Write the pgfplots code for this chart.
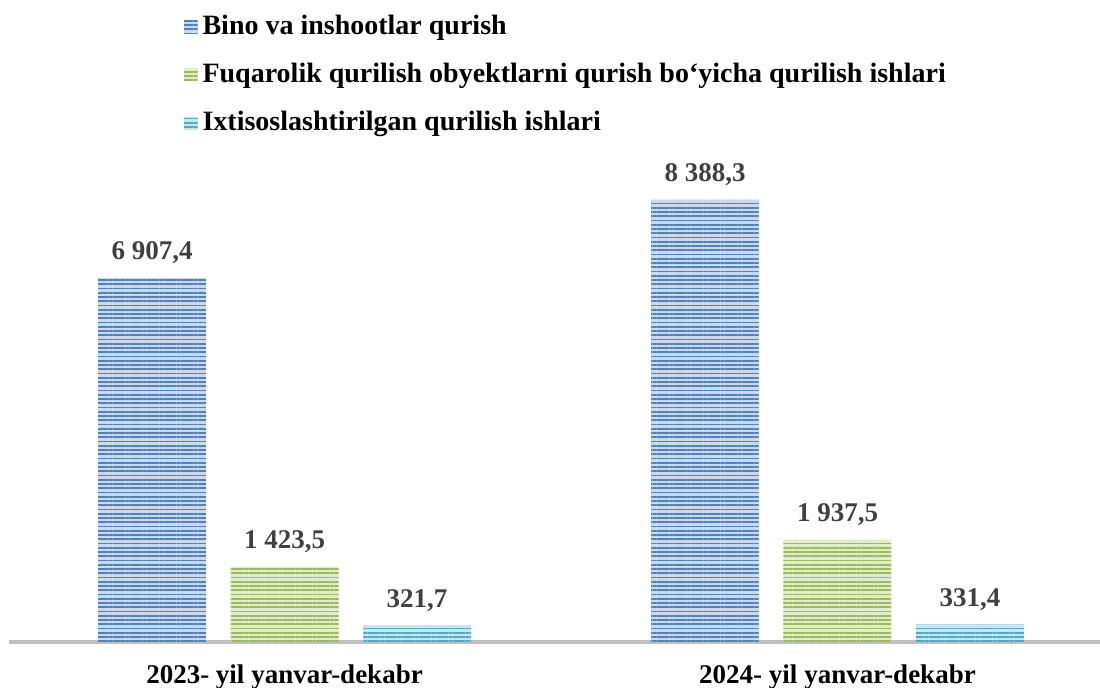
\documentclass[border=0pt]{standalone}
\usepackage{fontspec}
\setmainfont{Liberation Serif}
\usepackage{pgfplots}
\pgfplotsset{compat=1.18}
\usetikzlibrary{patterns.meta}

\definecolor{cBlue}{HTML}{4F81BD}
\definecolor{cGreen}{HTML}{9BBB59}
\definecolor{cCyan}{HTML}{4BACC6}
\definecolor{labgray}{HTML}{404040}
\definecolor{axgray}{HTML}{BFBFBF}

% striped bar style: light fill with dense horizontal lines
\tikzset{striped/.style={fill=#1!30!white, draw=none,
    postaction={pattern={Lines[angle=0, distance=1.7pt, line width=0.75pt]}, pattern color=#1}}}

\begin{document}
\begin{tikzpicture}
\useasboundingbox (0,0) rectangle (440pt,-275.2pt);
\begin{axis}[
    at={(3.6pt,-256.8pt)}, anchor=south west,
    scale only axis,
    width=436.4pt, height=256.8pt,
    ybar,
    xmin=-0.4982, xmax=1.4747,
    ymin=0, ymax=12182,
    bar width=0.1953,
    axis x line*=bottom,
    axis y line=none,
    x axis line style={-, line width=1.6pt, color=axgray},
    xtick={0,1},
    xticklabels={2023- yil yanvar-dekabr, 2024- yil yanvar-dekabr},
    major tick length=0pt,
    xticklabel style={font=\bfseries\fontsize{10.8}{12}\selectfont, yshift=-5.5pt},
    clip=false,
    point meta=explicit symbolic,
    nodes near coords,
    every node near coord/.append style={font=\bfseries\fontsize{10.8}{12}\selectfont, color=labgray, yshift=2pt},
    legend image code/.code={\path[#1] (0pt,-2.6pt) rectangle (5.4pt,2.6pt);},
    legend style={draw=none, fill=none, at={(rel axis cs:0.160,0.985)}, anchor=north west,
        font=\bfseries\fontsize{11.2}{12.5}\selectfont, row sep=6pt, inner sep=0pt,
        /tikz/every even column/.append style={column sep=1pt}},
    legend cell align=left,
]
\addplot[striped=cBlue, bar shift=-0.2396] coordinates {(0,6907.4) [6 907,4] (1,8388.3) [8 388,3]};
\addlegendentry{Bino va inshootlar qurish}
\addplot[striped=cGreen, bar shift=0] coordinates {(0,1423.5) [1 423,5] (1,1937.5) [1 937,5]};
\addlegendentry{Fuqarolik qurilish obyektlarni qurish bo‘yicha qurilish ishlari}
\addplot[striped=cCyan, bar shift=0.2396] coordinates {(0,321.7) [321,7] (1,331.4) [331,4]};
\addlegendentry{Ixtisoslashtirilgan qurilish ishlari}
\end{axis}
\end{tikzpicture}
\end{document}
